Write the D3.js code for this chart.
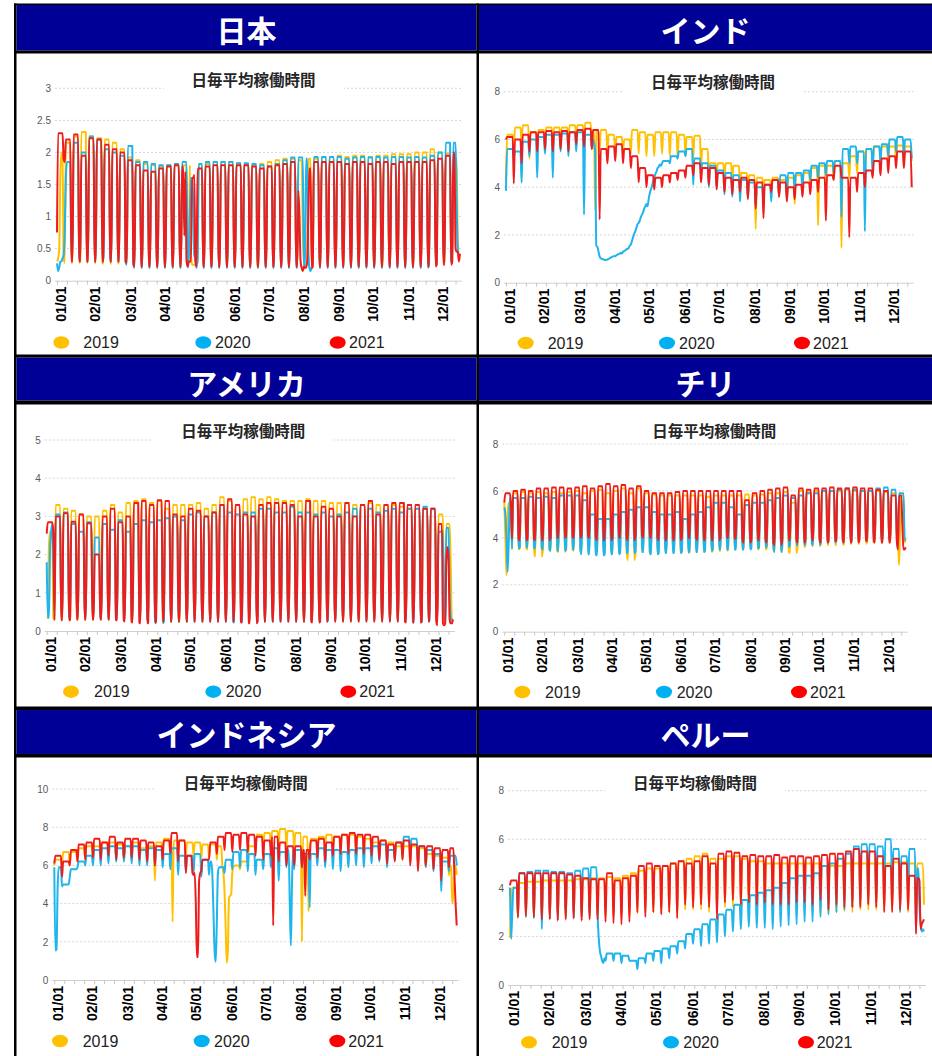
<!DOCTYPE html>
<html><head><meta charset="utf-8">
<script src="https://cdn.jsdelivr.net/npm/d3@7"></script>
<style>body{margin:0;background:#fff;}svg{display:block;}</style>
</head><body>
<script>
// ---------- shared labels ----------
const yearLabels = ['2019', '2020', '2021'];
const monthLabels = ['01/01','02/01','03/01','04/01','05/01','06/01','07/01','08/01','09/01','10/01','11/01','12/01'];
const monthTickDays = [3, 34, 66, 97, 128, 160, 191, 223, 254, 285, 317, 348];
const chartTitle = '日毎平均稼働時間';

// ---------- Japan (weekly weekday level / weekend level, weeks of 7 days) ----------
const jp19Hi = [2.0,2.15,2.25,2.32,2.25,2.22,2.2,2.15,2.05,1.92, 1.88,1.82,1.8,1.78,1.8,1.8,1.8,1.8,1.82,1.82, 1.85,1.85,1.85,1.83,1.82,1.8,1.82,1.85,1.88,1.9, 1.9,1.88,1.9,1.9,1.93,1.93,1.95,1.93,1.95,1.95, 1.93,1.95,1.95,1.97,1.97,1.97,2.0,2.0,2.05,2.0, 1.98,1.9,0.32];
const jp19Lo = [0.35,0.28,0.28,0.3,0.28,0.28,0.27,0.27,0.27,0.26, 0.25,0.25,0.24,0.24,0.24,0.24,0.24,0.24,0.24,0.24, 0.23,0.23,0.23,0.23,0.23,0.23,0.22,0.22,0.22,0.22, 0.22,0.22,0.22,0.23,0.23,0.23,0.23,0.23,0.23,0.23, 0.23,0.23,0.24,0.24,0.24,0.24,0.25,0.25,0.25,0.26, 0.3,0.3,0.32];
const jp19Over = [[0,0.3],[1,0.35],[2,0.5],[3,1.6],[121,0.4],[122,0.25],[123,0.25],[124,0.25],[127,0.3],[222,0.8],[225,0.25],[226,0.3],[362,0.6],[363,0.35]];
const jp20Hi = [1.85,1.85,2.15,2.0,2.25,2.2,2.05,2.0,1.95,2.1, 1.85,1.85,1.82,1.8,1.8,1.82,1.85,1.7,1.82,1.85, 1.85,1.85,1.85,1.83,1.83,1.82,1.8,1.78,1.82,1.88, 1.92,1.92,1.9,1.93,1.93,1.93,1.93,1.9,1.92,1.93, 1.92,1.93,1.92,1.93,1.93,1.92,1.93,1.92,1.95,2.0, 2.15,2.15,0.4];
const jp20Lo = [0.27,0.38,0.38,0.3,0.3,0.3,0.36,0.3,0.3,0.25, 0.2,0.2,0.2,0.2,0.2,0.2,0.2,0.35,0.2,0.2, 0.2,0.2,0.2,0.2,0.2,0.2,0.2,0.2,0.2,0.2, 0.2,0.2,0.2,0.2,0.2,0.2,0.2,0.2,0.2,0.2, 0.2,0.2,0.2,0.2,0.2,0.2,0.2,0.2,0.25,0.48, 0.3,0.28,0.4];
const jp20Over = [[1,0.15],[2,0.2],[3,0.3],[4,0.3],[5,0.35],[6,0.4],[7,0.78],[8,1.6],[120,1.05],[121,1.6],[122,1.6],[123,1.2],[124,0.4],[127,0.35],[227,0.5],[228,0.2],[229,0.15],[361,1.2],[362,0.5],[363,0.4]];
const jp21Hi = [2.3,2.2,2.28,1.95,2.22,2.2,2.12,2.05,2.0,1.88, 1.8,1.72,1.7,1.75,1.78,1.8,1.78,1.65,1.75,1.78, 1.8,1.8,1.8,1.8,1.8,1.78,1.75,1.78,1.8,1.82, 1.85,1.8,1.75,1.85,1.85,1.85,1.85,1.82,1.85,1.85, 1.82,1.85,1.85,1.82,1.85,1.85,1.85,1.85,1.88,1.9, 1.95,2.0,0.45];
const jp21Lo = [0.75,0.3,0.3,0.3,0.3,0.3,0.3,0.3,0.3,0.28, 0.22,0.22,0.22,0.22,0.22,0.22,0.22,0.3,0.22,0.22, 0.22,0.22,0.22,0.22,0.22,0.22,0.22,0.22,0.22,0.22, 0.22,0.22,0.2,0.22,0.22,0.22,0.22,0.22,0.22,0.22, 0.22,0.22,0.22,0.22,0.22,0.22,0.22,0.22,0.22,0.25, 0.25,0.3,0.42];
const jp21Over = [[6,1.9],[7,1.85],[115,0.7],[116,1.7],[117,0.3],[120,0.3],[121,0.3],[122,1.6],[123,1.6],[124,1.65],[218,1.4],[219,1.0],[220,0.3],[221,0.2],[222,0.15],[225,0.2],[226,0.3],[227,1.0],[360,0.5],[361,0.45],[362,0.45]];

// ---------- India (Sunday level only) ----------
const in19Hi = [6.2,6.5,6.6,6.3,6.4,6.5,6.5,6.5,6.6,6.6, 6.7,6.4,6.4,6.2,6.1,6.0,6.4,6.3,6.2,6.3, 6.3,6.3,6.2,6.1,6.15,5.6,5.0,5.0,5.0,4.9, 4.6,4.5,4.4,4.3,4.4,4.3,4.4,4.5,4.6,4.8, 4.9,4.9,5.1,5.0,5.3,5.5,5.6,5.7,5.7,5.7, 5.75,5.7,5.1];
const in19Lo = [4.2,5.6,5.8,5.2,5.9,5.8,5.7,5.8,5.8,5.9, 5.9,5.6,5.5,5.5,5.3,5.4,5.4,5.4,5.3,5.3, 5.4,5.3,5.2,5.3,5.2,4.9,4.5,4.5,4.3,4.3, 4.0,3.9,2.25,3.9,3.8,3.7,3.6,3.3,3.9,3.9, 2.4,4.0,4.3,1.45,4.4,4.6,4.8,4.9,5.0,5.0, 5.0,5.0,5.1];
const in19Over = [[80,3.05]];
const in20Hi = [5.6,5.5,5.9,6.0,6.1,6.2,6.2,6.25,6.3,6.3, 6.2,6.0,1.0,1.1,1.25,1.45,2.0,3.0,4.5,5.0, 5.1,5.3,5.5,5.6,5.2,5.0,4.9,4.7,4.6,4.5, 4.3,4.2,4.0,4.1,4.3,4.5,4.6,4.6,4.7,4.9, 5.0,5.1,5.1,5.6,5.7,5.5,5.6,5.7,5.8,6.0, 6.1,6.0,5.2];
const in20Lo = [3.85,5.2,4.2,5.3,4.4,5.4,4.4,5.5,5.3,5.5, 2.85,5.6,1.0,1.1,1.25,1.45,2.0,3.0,4.4,4.8, 4.9,5.0,5.2,5.3,4.1,4.6,4.0,4.0,3.7,3.6, 3.4,3.6,3.2,3.3,3.4,3.6,3.5,3.8,3.9,4.3, 4.4,4.5,4.6,2.75,5.0,5.0,2.15,4.5,5.0,5.3, 5.5,5.4,5.2];
const in20LockStart = 79;
const in20Lock = [5.8,5.5,1.55,1.5,1.3,1.1,1.02,1.0,0.98,0.97, 0.95,0.95,0.97,1.0,1.02,1.05,1.08,1.1,1.12,1.1, 1.15,1.18,1.2,1.22,1.25,1.22,1.3,1.33,1.35,1.4, 1.42,1.45,1.55,1.6,1.75,1.9,2.05,2.15,2.3,2.45, 2.5,2.6,2.75,2.85,2.95,3.1,3.2,3.3,3.2,3.5, 3.75,3.9,4.05,4.25,4.4,4.55,4.65,4.8,4.85,4.95, 4.9,5.0];
const in21Hi = [6.1,6.0,6.2,6.3,6.3,6.35,6.3,6.35,6.3,6.4, 6.45,6.4,5.6,5.7,5.8,5.6,5.3,4.8,4.5,4.4, 4.5,4.6,4.7,4.9,5.0,4.8,4.8,4.6,4.4,4.3, 4.4,4.3,4.2,4.1,4.3,4.2,4.0,4.1,4.2,4.3, 4.4,4.5,4.9,4.4,4.4,4.6,4.7,5.1,5.2,5.3, 5.5,5.5,4.0];
const in21Lo = [6.0,4.15,5.0,5.5,5.5,5.6,5.5,5.6,5.5,5.8, 5.7,5.6,2.65,5.0,5.1,5.0,4.8,4.2,4.0,3.9, 4.0,4.2,4.3,4.4,4.5,4.2,4.1,3.9,3.8,3.7, 3.8,3.5,3.1,2.7,3.8,3.6,3.4,3.5,3.6,3.7, 3.8,2.6,4.3,4.4,1.9,3.8,4.0,4.4,4.5,4.6, 4.8,4.8,4.0];

// ---------- USA ----------
const us19Hi = [2.6,3.3,3.2,3.15,3.05,3.0,3.0,3.15,3.3,3.1, 3.35,3.4,3.45,3.35,3.4,3.2,3.3,3.3,3.3,3.35, 3.2,3.3,3.5,3.4,3.3,3.45,3.5,3.45,3.5,3.45, 3.4,3.4,3.4,3.45,3.4,3.4,3.35,3.35,3.35,3.3, 3.3,3.35,3.3,3.3,3.3,3.25,3.2,3.2,3.2,3.2, 3.05,2.8,0.2];
const us19Lo = [0.35,0.3,0.3,0.32,0.3,0.3,0.3,0.3,0.3,0.3, 0.3,0.28,0.28,0.28,0.28,0.25,0.25,0.28,0.28,0.28, 0.28,0.28,0.28,0.28,0.28,0.28,0.28,0.28,0.28,0.28, 0.28,0.28,0.28,0.28,0.28,0.28,0.28,0.28,0.28,0.28, 0.3,0.3,0.3,0.3,0.3,0.3,0.3,0.3,0.3,0.3, 0.3,0.2,0.2];
const us19Over = [[1,0.35],[2,2.2],[362,1.7],[363,0.2]];
const us20Hi = [2.8,3.05,3.1,2.8,2.6,2.85,2.45,2.8,2.65,2.9, 2.6,2.8,2.9,2.85,2.9,2.95,3.0,2.9,3.05,3.1, 3.0,3.1,3.3,3.1,3.05,3.1,3.1,3.2,3.2,3.1, 3.1,3.25,3.1,3.1,3.05,3.1,3.0,3.05,3.1,3.2, 3.3,3.2,3.1,3.15,3.2,3.1,3.2,3.2,3.25,3.2, 2.6,2.7,0.3];
const us20Lo = [1.8,0.38,0.38,0.35,0.35,0.35,0.35,0.32,0.32,0.3, 0.3,0.3,0.3,0.28,0.2,0.25,0.25,0.25,0.25,0.25, 0.25,0.25,0.25,0.25,0.22,0.25,0.25,0.25,0.25,0.25, 0.25,0.25,0.25,0.25,0.25,0.25,0.28,0.28,0.28,0.28, 0.28,0.28,0.28,0.28,0.28,0.28,0.25,0.22,0.25,0.28, 0.28,0.3,0.3];
const us20Over = [[1,0.35],[2,0.35],[3,2.1],[4,2.6],[361,1.0],[362,0.3]];
const us21Hi = [2.85,3.0,3.08,2.86,3.05,2.82,2.0,3.0,3.2,2.85, 3.0,3.35,3.4,3.3,3.42,3.4,3.05,3.0,3.2,3.15, 3.0,3.1,3.3,3.45,3.3,3.05,3.0,3.3,3.35,3.35, 3.35,3.3,3.0,3.4,3.0,3.25,3.2,3.0,3.35,3.0, 3.3,3.4,3.05,3.3,3.35,3.35,3.3,3.3,3.2,3.2, 2.8,2.2,0.3];
const us21Lo = [2.55,0.28,0.28,0.3,0.3,0.3,0.3,0.3,0.3,0.28, 0.25,0.22,0.2,0.22,0.25,0.25,0.25,0.25,0.25,0.25, 0.25,0.25,0.25,0.25,0.25,0.22,0.2,0.25,0.25,0.25, 0.25,0.25,0.25,0.25,0.22,0.25,0.25,0.25,0.25,0.25, 0.25,0.25,0.25,0.25,0.25,0.25,0.22,0.22,0.25,0.25, 0.15,0.2,0.3];
const us21Over = [[355,0.2],[358,1.8],[359,2.2],[360,1.9],[361,0.3],[362,0.2]];

// ---------- Chile ----------
const ch19Hi = [5.5,5.9,5.95,5.9,5.95,5.9,5.95,5.9,5.95,6.0, 5.9,6.0,6.05,5.9,6.0,6.1,5.9,6.1,5.9,5.85, 5.8,5.8,5.8,5.8,5.8,5.8,5.75,5.8,5.8,5.8, 5.8,5.85,5.8,5.85,5.9,5.9,5.95,5.5,6.0,5.95, 6.0,6.0,6.0,6.0,6.05,6.0,6.0,6.0,6.0,5.95, 5.9,5.8,4.0];
const ch19Lo = [5.5,3.5,3.55,3.5,3.2,3.5,3.45,3.4,3.5,3.45, 3.4,3.4,3.35,3.4,3.35,3.4,3.05,3.4,3.4,3.3, 3.4,3.4,3.4,3.35,3.4,3.4,3.4,3.45,3.45,3.5, 3.5,3.55,3.55,3.5,3.55,3.4,3.4,3.35,3.6,3.65, 3.65,3.7,3.7,3.7,3.75,3.75,3.75,3.8,3.8,3.8, 3.8,3.8,4.0];
const ch19Over = [[1,4.0],[2,2.4],[3,5.0],[358,2.85],[359,4.5]];
const ch20Hi = [5.7,5.7,5.7,5.75,5.7,5.75,5.7,5.8,5.8,5.8, 5.6,5.0,4.8,4.8,5.0,5.1,5.2,5.3,5.3,5.1, 5.0,5.0,5.1,4.8,5.0,5.1,5.3,5.5,5.5,5.3, 5.0,5.4,5.5,5.5,5.6,5.7,5.8,5.7,5.8,5.9, 5.9,6.0,6.0,6.05,6.1,6.05,6.0,6.0,6.1,6.15, 6.05,5.9,3.9];
const ch20Lo = [5.3,3.55,3.6,3.6,3.55,3.5,3.45,3.45,3.5,3.5, 3.3,3.3,3.25,3.3,3.3,3.35,3.35,3.4,3.4,3.3, 3.35,3.35,3.35,3.4,3.4,3.4,3.45,3.5,3.5,3.5, 3.5,3.5,3.55,3.6,3.65,3.4,3.6,3.7,3.7,3.75, 3.7,3.8,3.8,3.85,3.8,3.85,3.85,3.9,3.9,3.95, 3.9,3.9,3.9];
const ch20Over = [[1,5.0],[2,4.0],[3,2.55],[4,3.8]];
const ch21Hi = [5.9,6.0,6.05,6.0,6.1,6.1,6.15,6.15,6.1,6.15, 6.2,6.1,6.2,6.3,6.2,6.25,6.1,6.2,6.0,5.9, 5.9,5.9,5.95,6.0,6.0,6.0,6.0,6.0,6.0,6.0, 6.0,5.6,5.9,6.0,6.05,6.1,6.15,5.8,6.1,6.05, 6.1,6.1,6.15,6.1,6.1,6.15,6.1,6.1,6.05,6.0, 5.8,5.8,3.6];
const ch21Lo = [5.5,3.95,3.9,3.95,3.9,3.9,4.0,4.0,4.05,4.0, 4.1,4.0,3.9,3.9,4.0,4.0,3.9,4.1,4.0,4.0, 3.9,3.9,3.9,4.0,4.0,3.9,3.9,3.9,4.0,4.0, 3.95,3.8,3.9,3.9,3.8,3.7,3.9,3.9,3.8,3.9, 3.9,3.8,3.85,3.9,3.8,3.8,3.9,3.85,3.8,3.8, 3.8,3.5,3.6];
const ch21Over = [[361,4.5],[362,3.5]];

// ---------- Indonesia (Sunday level only) ----------
const id19Hi = [6.3,6.7,6.7,6.9,7.0,7.0,7.2,7.2,7.1,7.0, 7.2,6.9,7.0,7.2,7.4,7.3,7.3,7.2,7.2,7.1, 7.1,7.0,6.8,6.0,6.2,7.0,7.6,7.7,7.8,7.9, 7.8,7.7,7.5,7.4,7.5,7.6,7.5,7.6,7.6,7.5, 7.4,7.2,7.3,7.2,7.0,7.0,7.0,6.9,6.6,6.5, 6.4,6.0,5.5];
const id19Lo = [6.0,6.1,6.0,6.2,6.3,6.3,6.4,6.5,6.5,6.3, 6.4,6.3,6.3,5.2,6.6,6.5,6.6,6.5,6.5,6.4, 6.4,6.3,6.0,5.5,5.8,6.2,6.8,6.9,7.0,7.0, 7.0,6.9,6.8,6.7,6.8,6.8,6.8,6.8,6.8,6.7, 6.7,6.5,6.5,6.4,6.3,6.3,6.2,6.1,5.9,5.8, 5.8,5.5,5.5];
const id19Over = [[107,3.05],[152,6.0],[153,5.6],[154,4.6],[155,2.8],[156,0.9],[157,1.5],[158,4.3],[159,4.4],[160,4.5],[161,5.6],[162,5.9],[224,2.0],[230,3.6],[360,4.0],[361,4.5],[362,5.5]];
const id20Hi = [5.9,5.0,5.8,6.2,6.5,6.8,6.9,7.0,6.9,7.0, 7.0,6.8,6.9,6.8,6.6,6.9,6.5,6.5,6.6,6.3, 6.2,5.9,6.3,6.7,6.8,6.6,6.3,6.6,6.9,6.7, 6.8,6.8,6.6,6.6,6.9,6.8,6.8,6.7,6.8,6.9, 6.9,7.0,7.1,6.8,7.2,7.5,7.4,7.0,6.8,6.6, 6.2,6.5,6.0];
const id20Lo = [5.9,4.9,5.4,5.9,6.0,6.0,6.0,6.1,6.2,6.2, 6.1,6.0,6.0,6.0,5.9,5.8,5.5,5.7,5.6,5.4, 5.5,5.3,5.6,5.8,5.9,5.7,5.5,5.8,5.9,5.2, 5.9,5.8,5.9,5.8,6.0,5.9,5.8,5.7,5.9,6.0, 5.9,6.1,6.2,5.9,6.3,6.5,6.5,6.0,5.9,5.7, 4.65,5.7,6.0];
const id20Over = [[1,1.55],[2,1.6],[3,4.8],[143,5.5],[144,3.5],[145,1.5],[146,0.95],[147,3.0],[148,5.6],[213,4.0],[214,1.8],[215,5.0],[231,3.8]];
const id21Hi = [6.5,6.2,6.8,7.1,7.2,7.4,7.2,7.5,7.2,7.4, 7.4,7.3,7.2,7.0,7.3,7.7,7.3,6.5,5.8,6.3, 7.2,7.5,7.7,7.6,7.7,7.6,7.5,7.3,7.5,7.2, 7.0,7.0,6.8,7.3,7.4,7.2,7.5,7.6,7.7,7.6, 7.6,7.5,7.3,7.1,7.2,7.3,7.1,7.0,7.0,6.9, 6.8,6.9,2.85];
const id21Lo = [6.1,5.4,6.0,6.2,6.3,6.4,6.3,6.5,6.3,6.4, 6.4,6.3,6.2,6.0,6.3,6.6,6.2,5.6,5.5,5.7, 6.3,6.6,6.8,6.7,6.8,6.7,6.5,6.3,6.5,6.2, 6.0,6.0,5.9,6.3,6.4,6.2,6.5,6.6,6.6,6.6, 6.6,6.5,6.3,6.1,6.2,6.3,6.0,5.7,6.0,5.8, 5.2,5.9,2.85];
const id21Over = [[125,5.6],[126,5.5],[127,5.6],[128,4.0],[129,1.2],[130,1.2],[131,5.2],[132,5.6],[198,2.85],[227,4.4],[362,5.4],[363,4.0]];

// ---------- Peru (Sunday level only) ----------
const pe19Hi = [4.0,4.2,4.25,4.25,4.3,4.3,4.3,4.3,4.35,4.35, 4.4,4.4,4.45,4.4,4.5,4.6,4.7,4.8,4.8,4.9, 5.0,5.1,5.2,5.3,5.4,5.2,5.2,5.3,5.3,5.2, 5.1,5.1,5.0,5.0,5.0,5.0,5.0,5.0,5.0,4.9, 4.9,4.9,5.0,5.0,5.0,5.0,5.0,5.0,5.05,5.05, 5.0,5.0,3.3];
const pe19Lo = [1.95,2.75,2.8,2.8,2.7,2.75,2.8,2.8,2.85,2.8, 2.8,2.85,2.8,2.85,2.9,2.9,2.95,3.0,3.0,3.0, 3.0,2.9,3.1,3.1,3.1,3.0,3.1,3.2,3.2,3.1, 3.1,3.1,3.1,3.1,3.1,3.0,3.1,3.1,3.0,2.9, 3.0,3.0,3.05,3.0,3.1,3.1,3.1,3.1,3.1,3.0, 3.0,2.9,3.3];
const pe19Over = [[1,3.6]];
const pe20Hi = [4.0,4.6,4.65,4.7,4.7,4.65,4.65,4.6,4.7,4.8, 4.85,1.4,1.3,1.3,1.2,1.0,1.1,1.3,1.4,1.5, 1.6,1.8,2.1,2.3,2.5,2.7,2.9,3.1,3.3,3.5, 3.7,3.8,3.9,4.0,4.2,4.4,4.5,4.5,4.6,4.9, 5.0,5.2,5.4,5.7,5.8,5.8,5.7,6.0,5.6,5.3, 5.6,4.8,2.2];
const pe20Lo = [4.0,2.8,2.8,2.75,2.3,2.75,2.7,2.8,2.75,2.8, 2.8,2.9,1.0,1.0,0.9,1.0,0.65,0.9,1.0,0.9, 1.1,1.3,1.5,1.7,1.6,1.7,1.75,2.0,2.2,2.3, 2.4,2.35,2.35,2.3,2.4,2.45,2.5,2.6,2.6,2.8, 2.9,3.0,3.1,3.2,3.3,3.4,3.4,3.5,3.3,3.0, 3.6,2.2,2.2];
const pe20Over = [[1,1.9],[2,3.0],[77,2.9],[78,1.95],[79,1.4],[80,1.2],[81,1.0],[82,0.9],[83,1.1],[360,3.3],[361,2.5],[362,2.2],[363,2.3]];
const pe21Hi = [4.3,4.6,4.6,4.6,4.6,4.6,4.6,4.55,4.5,4.4, 4.35,4.35,4.6,4.3,4.4,4.5,4.9,5.0,4.9,4.9, 5.0,5.1,5.0,5.1,5.3,5.0,5.4,5.5,5.45,5.3, 5.35,5.3,5.3,5.35,5.25,5.3,5.3,5.25,5.3,5.35, 5.4,5.4,5.5,5.6,5.5,5.5,5.3,4.9,5.2,5.0, 4.5,4.4,2.7];
const pe21Lo = [4.1,2.8,2.85,2.8,2.7,2.7,2.65,2.7,2.75,2.65, 2.7,2.7,2.6,2.55,2.5,2.6,3.0,2.8,3.0,2.9, 3.0,2.75,3.3,3.2,3.3,3.2,2.7,3.4,3.5,3.3, 3.4,3.3,3.4,3.3,3.3,3.3,3.4,3.4,3.3,3.5, 3.1,3.3,3.2,3.2,3.2,3.3,3.2,3.0,3.0,3.1, 3.1,2.1,2.7];
const pe21Over = [[358,4.4],[359,4.4],[360,4.3],[361,2.3],[362,2.5],[363,2.6]];

// ---------- build daily series from the weekly readings ----------
function buildDaily(hi, lo, satLow, over, segStart, seg) {
  const out = [];
  for (let d = 0; d < 365; d++) {
    const k = Math.floor(d / 7), r = d % 7;
    const low = r === 0 || (satLow && r === 6);
    const arr = low ? lo : hi;
    out.push(arr[Math.min(k, arr.length - 1)]);
  }
  (over || []).forEach(([d, v]) => { out[d] = v; });
  if (seg) seg.forEach((v, i) => { out[segStart + i] = v; });
  return out;
}

const legendColors = ['#FFC000', '#00B0F0', '#FF0000'];
const lineColors = ['#FFC000', '#1EB4EC', '#EE1C1C'];

const panels = [
  {name:'日本', x0:57, x1:460, yBot:280.7, yTop:88.3, yMax:3, yStep:0.5, titleX:253.6, titleY:79,
   legY:342.5, legCx:[61.3,203.3,337.7], legTx:[83.3,215,349],
   series:[buildDaily(jp19Hi,jp19Lo,true,jp19Over), buildDaily(jp20Hi,jp20Lo,true,jp20Over), buildDaily(jp21Hi,jp21Lo,true,jp21Over)]},
  {name:'インド', x0:506, x1:911.7, yBot:282.7, yTop:91.7, yMax:8, yStep:2, titleX:713, titleY:81,
   legY:343, legCx:[525.7,667,802], legTx:[547.7,679,813],
   series:[buildDaily(in19Hi,in19Lo,false,in19Over), buildDaily(in20Hi,in20Lo,false,[],in20LockStart,in20Lock), buildDaily(in21Hi,in21Lo,false,[])]},
  {name:'アメリカ', x0:46.7, x1:453, yBot:631, yTop:440, yMax:5, yStep:1, titleX:243.3, titleY:430,
   legY:691.7, legCx:[71,213.3,348.3], legTx:[94,225.7,359.3],
   series:[buildDaily(us19Hi,us19Lo,true,us19Over), buildDaily(us20Hi,us20Lo,true,us20Over), buildDaily(us21Hi,us21Lo,true,us21Over)]},
  {name:'チリ', x0:504.3, x1:905.7, yBot:631.7, yTop:444, yMax:8, yStep:2, titleX:714.3, titleY:430,
   legY:692, legCx:[522.3,664,799], legTx:[545,676.7,810],
   series:[buildDaily(ch19Hi,ch19Lo,true,ch19Over), buildDaily(ch20Hi,ch20Lo,true,ch20Over), buildDaily(ch21Hi,ch21Lo,true,ch21Over)]},
  {name:'インドネシア', x0:54.3, x1:456.7, yBot:980, yTop:789, yMax:10, yStep:2, titleX:245.7, titleY:781.7,
   legY:1041, legCx:[60,201.7,337.3], legTx:[82.7,214,348.3],
   series:[buildDaily(id19Hi,id19Lo,false,id19Over), buildDaily(id20Hi,id20Lo,false,id20Over), buildDaily(id21Hi,id21Lo,false,id21Over)]},
  {name:'ペルー', x0:510, x1:924, yBot:985, yTop:790.7, yMax:8, yStep:2, titleX:695, titleY:782.3,
   legY:1042.3, legCx:[529,671,806], legTx:[551.7,683.3,816.7],
   series:[buildDaily(pe19Hi,pe19Lo,false,pe19Over), buildDaily(pe20Hi,pe20Lo,false,pe20Over), buildDaily(pe21Hi,pe21Lo,false,pe21Over)]}
];

const FONT = '"Liberation Sans", Arial, sans-serif';
const CJK = '"Noto Sans CJK JP", "Noto Sans CJK SC", sans-serif';

const svg = d3.select('body').append('svg').attr('width', 932).attr('height', 1056);
svg.append('rect').attr('width', 932).attr('height', 1056).attr('fill', '#fff');

panels.forEach(p => {
  const g = svg.append('g');
  const x = d3.scaleLinear().domain([0, 364]).range([p.x0, p.x1]);
  const y = d3.scaleLinear().domain([0, p.yMax]).range([p.yBot, p.yTop]);
  const yt = d3.range(0, p.yMax + 1e-9, p.yStep);

  // gridlines
  g.selectAll('line.grid').data(yt.filter(v => v > 0)).join('line')
    .attr('x1', p.x0 - 2).attr('x2', p.x1 + 2)
    .attr('y1', d => y(d)).attr('y2', d => y(d))
    .attr('stroke', '#d6d6d6').attr('stroke-width', 1).attr('stroke-dasharray', '2,2');

  // title (white box interrupts the top gridline)
  g.append('rect').attr('x', p.titleX - 90).attr('y', p.titleY - 12).attr('width', 180).attr('height', 24).attr('fill', '#fff');
  g.append('text').attr('x', p.titleX).attr('y', p.titleY).attr('text-anchor', 'middle')
    .attr('dominant-baseline', 'central').style('font-family', CJK).style('font-weight', 700)
    .style('font-size', '15.5px').attr('fill', '#262626').text(chartTitle);

  // y axis labels
  const ya = d3.axisLeft(y).tickValues(yt).tickSize(0).tickPadding(6).tickFormat(d3.format('~g'));
  const gy = g.append('g').attr('transform', `translate(${p.x0},0)`).call(ya);
  gy.select('.domain').remove();
  gy.selectAll('text').attr('fill', '#595959').style('font-size', '10px').style('font-family', FONT);

  // x axis baseline + minor ticks
  const xa = d3.axisBottom(x).tickValues(d3.range(0, 365, 9)).tickSize(4).tickSizeOuter(0).tickFormat('');
  const gx = g.append('g').attr('transform', `translate(0,${p.yBot})`).call(xa);
  gx.selectAll('line').attr('stroke', '#c8c8c8');
  gx.select('.domain').attr('stroke', '#d0d0d0').attr('d', `M${p.x0 - 2},0.5H${p.x1 + 2}`);

  // month labels
  const xl = d3.axisBottom(x).tickValues(monthTickDays).tickSize(0).tickSizeOuter(0).tickFormat((d, i) => monthLabels[i]);
  const gl = g.append('g').attr('transform', `translate(0,${p.yBot})`).call(xl);
  gl.select('.domain').remove();
  gl.selectAll('text').attr('transform', 'rotate(-90)').attr('x', -6).attr('y', 0).attr('dy', '0.36em')
    .attr('text-anchor', 'end').attr('fill', '#000')
    .style('font-size', '14px').style('font-weight', 'bold').style('font-family', FONT);

  // series lines
  const line = d3.line().x((d, i) => x(i)).y(d => y(d)).curve(d3.curveMonotoneX);
  p.series.forEach((s, j) => {
    g.append('path').datum(s).attr('d', line).attr('fill', 'none')
      .attr('stroke', lineColors[j]).attr('stroke-width', 2).attr('stroke-linejoin', 'round');
  });

  // legend
  yearLabels.forEach((yl, j) => {
    g.append('ellipse').attr('cx', p.legCx[j]).attr('cy', p.legY).attr('rx', 8).attr('ry', 6.2).attr('fill', legendColors[j]);
    g.append('text').attr('x', p.legTx[j]).attr('y', p.legY).attr('dominant-baseline', 'central')
      .style('font-family', FONT).style('font-size', '16px').attr('fill', '#222').text(yl);
  });
});

// headers and black frame
const NAVY = '#000096';
const headerRows = [{y0: 5, y1: 50.5, ty: 29}, {y0: 357.5, y1: 400.5, ty: 381.5}, {y0: 710, y1: 754, ty: 733}];
const cols = [{x0: 16.5, x1: 476.5, cx: 246.5}, {x0: 479, x1: 932, cx: 705.5}];
const names = [['日本', 'インド'], ['アメリカ', 'チリ'], ['インドネシア', 'ペルー']];
const frame = svg.append('g');
headerRows.forEach((r, ri) => {
  cols.forEach((c, ci) => {
    frame.append('rect').attr('x', c.x0).attr('y', r.y0).attr('width', c.x1 - c.x0).attr('height', r.y1 - r.y0).attr('fill', NAVY);
    frame.append('text').attr('x', c.cx).attr('y', r.ty).attr('text-anchor', 'middle').attr('dominant-baseline', 'central')
      .style('font-family', CJK).style('font-weight', 700).style('font-size', '30px').attr('fill', '#fff').text(names[ri][ci]);
  });
});
const hBands = [[3.5, 5], [50.5, 53.5], [354.5, 357.5], [400.5, 404.5], [706.5, 710], [754, 757.5]];
hBands.forEach(([a, b]) => frame.append('rect').attr('x', 14).attr('y', a).attr('width', 918).attr('height', b - a).attr('fill', '#000'));
frame.append('rect').attr('x', 14).attr('y', 3.5).attr('width', 2.5).attr('height', 1052.5).attr('fill', '#000');
frame.append('rect').attr('x', 476.5).attr('y', 3.5).attr('width', 2.5).attr('height', 1052.5).attr('fill', '#000');
</script>
</body></html>
